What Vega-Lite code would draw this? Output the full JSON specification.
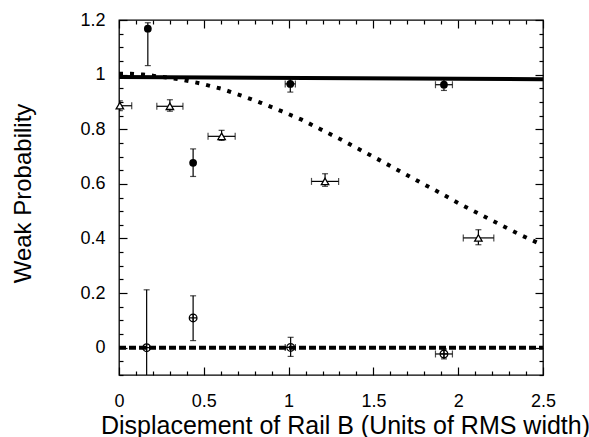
{
  "$schema": "https://vega.github.io/schema/vega-lite/v6.json",
  "autosize": {"type": "none"},
  "padding": {"left": 119, "top": 20, "right": 46, "bottom": 62},
  "width": 424,
  "height": 355,
  "config": {
    "view": {"stroke": "black", "strokeWidth": 1.3},
    "font": "Liberation Sans",
    "axis": {"domain": false, "grid": false, "labelFont": "Liberation Sans", "titleFont": "Liberation Sans", "labelFontSize": 18, "titleFontSize": 24, "titleFontWeight": "normal", "labelColor": "black", "titleColor": "black", "tickColor": "black", "tickWidth": 1.2}
  },
  "datasets": {
    "pts": [
      {"series": "A", "x": 0.17, "y": 1.168, "ylo": 1.033, "yhi": 1.19, "xlo": null, "xhi": null},
      {"series": "A", "x": 0.437, "y": 0.677, "ylo": 0.627, "yhi": 0.728, "xlo": null, "xhi": null},
      {"series": "A", "x": 1.01, "y": 0.966, "ylo": 0.936, "yhi": 0.99, "xlo": 0.98, "xhi": 1.04},
      {"series": "A", "x": 1.916, "y": 0.963, "ylo": 0.942, "yhi": 0.984, "xlo": 1.866, "xhi": 1.966},
      {"series": "B", "x": 0.005, "y": 0.886, "ylo": 0.868, "yhi": 0.904, "xlo": -0.065, "xhi": 0.075},
      {"series": "B", "x": 0.30, "y": 0.884, "ylo": 0.866, "yhi": 0.908, "xlo": 0.223, "xhi": 0.377},
      {"series": "B", "x": 0.605, "y": 0.774, "ylo": 0.759, "yhi": 0.796, "xlo": 0.525, "xhi": 0.685},
      {"series": "B", "x": 1.215, "y": 0.609, "ylo": 0.591, "yhi": 0.637, "xlo": 1.135, "xhi": 1.295},
      {"series": "B", "x": 2.119, "y": 0.402, "ylo": 0.377, "yhi": 0.432, "xlo": 2.03, "xhi": 2.21},
      {"series": "C", "x": 0.163, "y": 0.0, "ylo": -0.21, "yhi": 0.212, "xlo": null, "xhi": null},
      {"series": "C", "x": 0.437, "y": 0.109, "ylo": 0.026, "yhi": 0.19, "xlo": null, "xhi": null},
      {"series": "C", "x": 1.012, "y": 0.001, "ylo": -0.032, "yhi": 0.038, "xlo": 0.98, "xhi": 1.04},
      {"series": "C", "x": 1.916, "y": -0.023, "ylo": -0.041, "yhi": -0.005, "xlo": 1.866, "xhi": 1.966}
    ],
    "curve": [
      {"x": 0, "y": 1.003}, {"x": 0.07, "y": 1.003}, {"x": 0.14, "y": 1.0}, {"x": 0.2, "y": 0.996},
      {"x": 0.366, "y": 0.982}, {"x": 0.486, "y": 0.967}, {"x": 0.605, "y": 0.948}, {"x": 0.723, "y": 0.923},
      {"x": 0.841, "y": 0.896}, {"x": 0.959, "y": 0.866}, {"x": 1.077, "y": 0.835}, {"x": 1.185, "y": 0.801},
      {"x": 1.303, "y": 0.764}, {"x": 1.421, "y": 0.725}, {"x": 1.539, "y": 0.686}, {"x": 1.657, "y": 0.646},
      {"x": 1.775, "y": 0.606}, {"x": 1.893, "y": 0.567}, {"x": 2.011, "y": 0.526}, {"x": 2.124, "y": 0.49},
      {"x": 2.246, "y": 0.451}, {"x": 2.364, "y": 0.414}, {"x": 2.5, "y": 0.375}
    ],
    "solid": [{"x": 0, "y": 0.991}, {"x": 2.5, "y": 0.983}],
    "zero": [{"x": 0, "y": 0}, {"x": 2.5, "y": 0}]
  },
  "resolve": {"axis": {"x": "independent", "y": "independent"}},
  "layer": [
    {
      "data": {"name": "curve"},
      "mark": {"type": "line", "color": "black", "strokeWidth": 4, "strokeDash": [4, 7], "clip": true},
      "encoding": {
        "x": {"field": "x", "type": "quantitative", "scale": {"domain": [0, 2.5], "nice": false, "zero": false},
          "axis": {"orient": "bottom", "title": "Displacement of Rail B (Units of RMS width)",
            "values": [0,0.1,0.2,0.3,0.4,0.5,0.6,0.7,0.8,0.9,1,1.1,1.2,1.3,1.4,1.5,1.6,1.7,1.8,1.9,2,2.1,2.2,2.3,2.4,2.5],
            "labelExpr": "abs(datum.value*2 - round(datum.value*2)) < 1e-6 ? format(datum.value, '~g') : ''",
            "tickSize": {"condition": {"test": "abs(datum.value*2 - round(datum.value*2)) < 1e-6", "value": -8}, "value": -4},
            "labelPadding": 25, "labelFlush": false, "labelOverlap": false, "labelBaseline": "top",
            "titleFontSize": 25,
            "titleX": 226, "titleY": 50, "titleBaseline": "middle", "titleAnchor": "middle"}},
        "y": {"field": "y", "type": "quantitative", "scale": {"domain": [-0.1, 1.2], "nice": false, "zero": false},
          "axis": {"orient": "left", "title": "Weak Probability",
            "values": [-0.1,-0.05,0,0.05,0.1,0.15,0.2,0.25,0.3,0.35,0.4,0.45,0.5,0.55,0.6,0.65,0.7,0.75,0.8,0.85,0.9,0.95,1,1.05,1.1,1.15,1.2],
            "labelExpr": "abs(datum.value*5 - round(datum.value*5)) < 1e-6 ? format(datum.value, '~g') : ''",
            "tickSize": {"condition": {"test": "abs(datum.value*5 - round(datum.value*5)) < 1e-6", "value": -8}, "value": -4},
            "labelPadding": 22, "labelFlush": false, "labelOverlap": false,
            "titleX": -96, "titleY": 173, "titleBaseline": "middle", "titleAnchor": "middle"}}
      }
    },
    {
      "data": {"name": "solid"},
      "mark": {"type": "line", "color": "black", "strokeWidth": 4},
      "encoding": {
        "x": {"field": "x", "type": "quantitative", "scale": {"domain": [0, 2.5], "nice": false, "zero": false},
          "axis": {"orient": "top", "title": null, "labels": false,
            "values": [0,0.1,0.2,0.3,0.4,0.5,0.6,0.7,0.8,0.9,1,1.1,1.2,1.3,1.4,1.5,1.6,1.7,1.8,1.9,2,2.1,2.2,2.3,2.4,2.5],
            "tickSize": {"condition": {"test": "abs(datum.value*2 - round(datum.value*2)) < 1e-6", "value": -8}, "value": -4}}},
        "y": {"field": "y", "type": "quantitative", "scale": {"domain": [-0.1, 1.2], "nice": false, "zero": false},
          "axis": {"orient": "right", "title": null, "labels": false,
            "values": [-0.1,-0.05,0,0.05,0.1,0.15,0.2,0.25,0.3,0.35,0.4,0.45,0.5,0.55,0.6,0.65,0.7,0.75,0.8,0.85,0.9,0.95,1,1.05,1.1,1.15,1.2],
            "tickSize": {"condition": {"test": "abs(datum.value*5 - round(datum.value*5)) < 1e-6", "value": -8}, "value": -4}}}
      }
    },
    {
      "data": {"name": "zero"},
      "mark": {"type": "line", "color": "black", "strokeWidth": 4, "strokeDash": [7, 3]},
      "encoding": {
        "x": {"field": "x", "type": "quantitative", "axis": null},
        "y": {"field": "y", "type": "quantitative", "axis": null}
      }
    },
    {
      "data": {"name": "pts"},
      "mark": {"type": "rule", "color": "black", "strokeWidth": 1.2, "clip": true},
      "encoding": {
        "x": {"field": "x", "type": "quantitative", "axis": null},
        "y": {"field": "ylo", "type": "quantitative", "axis": null},
        "y2": {"field": "yhi"}
      }
    },
    {
      "data": {"name": "pts"},
      "transform": [{"fold": ["ylo", "yhi"], "as": ["end", "yend"]}],
      "mark": {"type": "tick", "orient": "horizontal", "color": "black", "size": 6, "thickness": 1.2, "clip": true},
      "encoding": {
        "x": {"field": "x", "type": "quantitative", "axis": null},
        "y": {"field": "yend", "type": "quantitative", "axis": null}
      }
    },
    {
      "data": {"name": "pts"},
      "transform": [{"filter": "datum.xlo != null"}],
      "mark": {"type": "rule", "color": "black", "strokeWidth": 1.2, "clip": true},
      "encoding": {
        "x": {"field": "xlo", "type": "quantitative", "axis": null},
        "x2": {"field": "xhi"},
        "y": {"field": "y", "type": "quantitative", "axis": null}
      }
    },
    {
      "data": {"name": "pts"},
      "transform": [{"filter": "datum.xlo != null"}, {"fold": ["xlo", "xhi"], "as": ["end", "xend"]}],
      "mark": {"type": "tick", "orient": "vertical", "color": "black", "size": 7, "thickness": 1.2, "clip": true},
      "encoding": {
        "x": {"field": "xend", "type": "quantitative", "axis": null},
        "y": {"field": "y", "type": "quantitative", "axis": null}
      }
    },
    {
      "data": {"name": "pts"},
      "transform": [{"filter": "datum.series == 'A'"}],
      "mark": {"type": "point", "shape": "circle", "filled": true, "color": "black", "size": 60, "opacity": 1},
      "encoding": {
        "x": {"field": "x", "type": "quantitative", "axis": null},
        "y": {"field": "y", "type": "quantitative", "axis": null}
      }
    },
    {
      "data": {"name": "pts"},
      "transform": [{"filter": "datum.series == 'B'"}],
      "mark": {"type": "point", "shape": "triangle-up", "filled": false, "color": "black", "fill": "white", "fillOpacity": 1, "strokeWidth": 1.3, "size": 55, "opacity": 1},
      "encoding": {
        "x": {"field": "x", "type": "quantitative", "axis": null},
        "y": {"field": "y", "type": "quantitative", "axis": null}
      }
    },
    {
      "data": {"name": "pts"},
      "transform": [{"filter": "datum.series == 'C'"}],
      "mark": {"type": "point", "shape": "M-1,0A1,1 0 1,1 1,0A1,1 0 1,1 -1,0M-1,0L1,0M0,-1L0,1", "filled": false, "color": "black", "strokeWidth": 1.2, "size": 60, "opacity": 1},
      "encoding": {
        "x": {"field": "x", "type": "quantitative", "axis": null},
        "y": {"field": "y", "type": "quantitative", "axis": null}
      }
    }
  ]
}
